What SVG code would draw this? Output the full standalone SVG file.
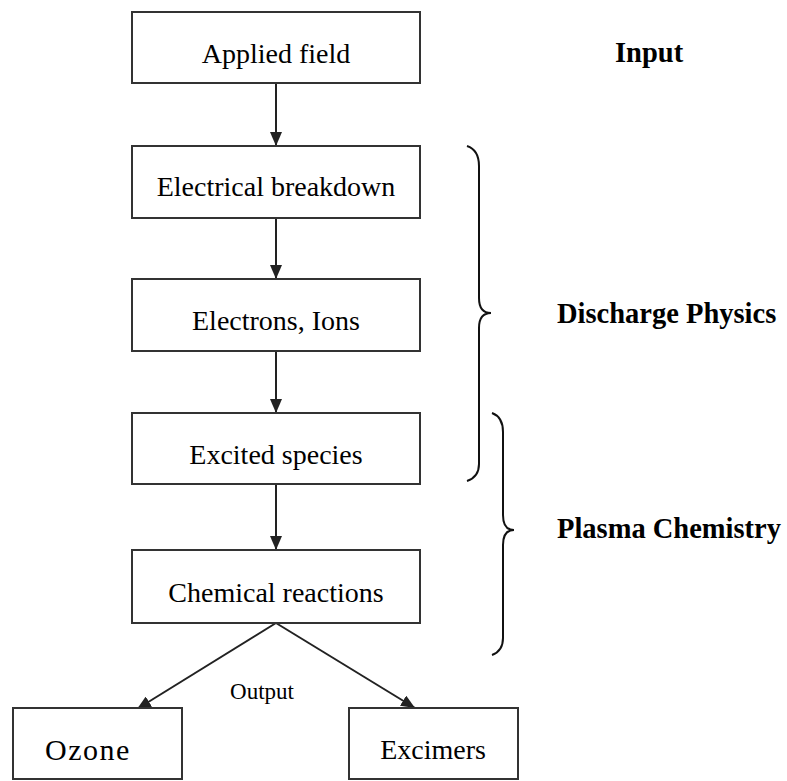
<svg xmlns="http://www.w3.org/2000/svg" width="787" height="781" viewBox="0 0 787 781">
<defs>
<style>
.box{fill:#fff;stroke:#333;stroke-width:2}
.t{font-family:"Liberation Serif","Times New Roman",serif;font-size:28px;fill:#000;text-anchor:middle}
.lab{font-family:"Liberation Serif","Times New Roman",serif;font-size:28.5px;font-weight:bold;fill:#000}
.ln{stroke:#222;stroke-width:2;fill:none}
.br{stroke:#111;stroke-width:2;fill:none}
</style>
<marker id="ah" viewBox="0 0 14 12" refX="14" refY="6" markerWidth="14" markerHeight="12" markerUnits="userSpaceOnUse" orient="auto">
<path d="M0,0 L14,6 L0,12 Z" fill="#222"/>
</marker>
</defs>
<rect width="787" height="781" fill="#fff"/>
<g id="connectors">
<line class="ln" x1="276" y1="83" x2="276" y2="146" marker-end="url(#ah)"/>
<line class="ln" x1="276" y1="218" x2="276" y2="279" marker-end="url(#ah)"/>
<line class="ln" x1="276" y1="351" x2="276" y2="413" marker-end="url(#ah)"/>
<line class="ln" x1="276" y1="484" x2="276" y2="550" marker-end="url(#ah)"/>
<line class="ln" x1="276" y1="623" x2="137" y2="709" marker-end="url(#ah)"/>
<line class="ln" x1="276" y1="623" x2="415" y2="708" marker-end="url(#ah)"/>
</g>
<g id="n-applied">
<rect class="box" x="132" y="12" width="288" height="71"/>
<text class="t" x="276" y="63">Applied field</text>
</g>
<g id="n-breakdown">
<rect class="box" x="132" y="146" width="288" height="72"/>
<text class="t" x="276" y="196">Electrical breakdown</text>
</g>
<g id="n-electrons">
<rect class="box" x="132" y="279" width="288" height="72"/>
<text class="t" x="276" y="330">Electrons, Ions</text>
</g>
<g id="n-excited">
<rect class="box" x="132" y="413" width="288" height="71"/>
<text class="t" x="276" y="464">Excited species</text>
</g>
<g id="n-chemical">
<rect class="box" x="132" y="550" width="288" height="73"/>
<text class="t" x="276" y="602">Chemical reactions</text>
</g>
<g id="n-ozone">
<rect class="box" x="13" y="708" width="169" height="71"/>
<text class="t" x="88" y="760" style="font-size:30px;letter-spacing:1.5px">Ozone</text>
</g>
<g id="n-excimers">
<rect class="box" x="349" y="708" width="169" height="71"/>
<text class="t" x="433" y="759">Excimers</text>
</g>
<g id="output-label">
<text class="t" x="262" y="699" style="font-size:23px">Output</text>
</g>
<g id="braces">
<path class="br" d="M467,146 Q479,150 479,166 L479,298 Q479,313 491,313 Q479,313 479,328 L479,464 Q479,477 467,481"/>
<path class="br" d="M492,413 Q503,417 503,432 L503,515 Q503,530 514,530 Q503,530 503,545 L503,638 Q503,651 492,655"/>
</g>
<g id="labels">
<text class="lab" x="615" y="62">Input</text>
<text class="lab" x="557" y="323">Discharge Physics</text>
<text class="lab" x="557" y="538">Plasma Chemistry</text>
</g>
</svg>
